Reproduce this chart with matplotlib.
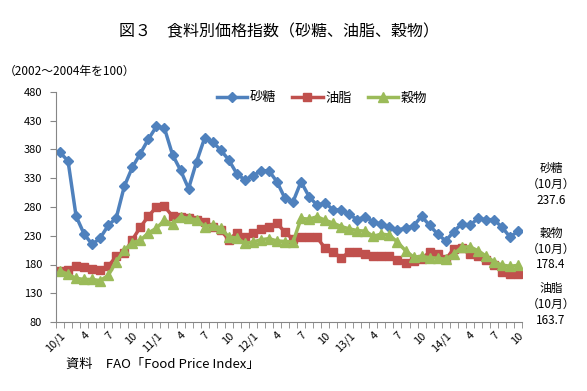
import numpy as np
import matplotlib
matplotlib.use('Agg')
import matplotlib.pyplot as plt

plt.rcParams['font.family'] = ['Noto Sans CJK JP', 'DejaVu Sans']

# 2010/1 ~ 2014/10 月次
sugar = [375, 360, 264, 233, 215, 226, 248, 261, 316, 349, 373, 398,
         420, 417, 371, 344, 312, 359, 400, 393, 379, 362, 338, 327,
         334, 343, 343, 324, 295, 289, 324, 298, 283, 287, 275, 275,
         267, 258, 263, 254, 250, 245, 240, 243, 247, 264, 248, 233,
         221, 237, 251, 248, 260, 258, 258, 245, 228, 237.6]
oils = [169, 170, 177, 175, 172, 170, 177, 194, 200, 223, 245, 264,
        280, 281, 264, 263, 261, 258, 254, 245, 240, 223, 235, 228,
        235, 241, 245, 252, 236, 224, 227, 227, 227, 208, 202, 191,
        202, 202, 199, 195, 195, 195, 187, 183, 186, 189, 202, 198,
        189, 207, 208, 198, 194, 188, 180, 167, 164, 163.7]
grains = [169, 163, 156, 154, 154, 152, 161, 185, 205, 218, 222, 235,
          243, 257, 250, 263, 260, 258, 246, 249, 243, 228, 226, 217,
          219, 223, 225, 221, 220, 219, 260, 259, 263, 257, 252, 246,
          242, 239, 238, 229, 233, 231, 219, 204, 193, 194, 192, 191,
          189, 198, 210, 211, 204, 195, 185, 179, 177, 178.4]
names = ['砂糖', '油脂', '穀物']
last_vals = ['237.6', '163.7', '178.4']

n = len(sugar)
labels = []
for i in range(n):
    if i % 12 == 0:
        labels.append('%d/1' % (10 + i // 12))
    else:
        labels.append(str(i % 12 + 1))

fig = plt.figure(figsize=(5.87, 3.91), dpi=100)
ax = fig.add_axes([56 / 587, 1 - 322 / 391, 466 / 587, 230 / 391])

x = np.arange(n)
ax.plot(x, sugar, color='#4F81BD', lw=2.5, marker='D', ms=5.5, label=names[0])
ax.plot(x, oils, color='#C0504D', lw=2.5, marker='s', ms=6, label=names[1])
ax.plot(x, grains, color='#9BBB59', lw=2.5, marker='^', ms=7, label=names[2])

ax.set_xlim(-0.5, n - 0.5)
ax.set_ylim(80, 480)
ax.set_yticks(np.arange(80, 481, 50))
ax.set_xticks(x[::3])
ax.set_xticklabels(labels[::3], rotation=45, ha='right', rotation_mode='anchor', fontsize=8)
ax.set_xticks(np.arange(-0.5, n, 1), minor=True)
ax.tick_params(axis='x', which='major', length=0, pad=6)
ax.tick_params(axis='x', which='minor', length=4, color='#868686', direction='out')
ax.tick_params(axis='y', length=4, color='#868686', labelsize=8, pad=6)

for s in ['top', 'right']:
    ax.spines[s].set_visible(False)
for s in ['left', 'bottom']:
    ax.spines[s].set_color('#868686')

fig.legend(loc='center', bbox_to_anchor=(322 / 587, 1 - 98 / 391), ncol=3, frameon=False,
           fontsize=9.5, handlelength=2.3, columnspacing=1.2, handletextpad=0.2)

fig.text(279 / 587, 1 - 32 / 391, '図３　食料別価格指数（砂糖、油脂、穀物）', ha='center', va='center', fontsize=11.5)
fig.text(4 / 587, 1 - 71 / 391, '（2002～2004年を100）', ha='left', va='center', fontsize=8.5)
fig.text(66 / 587, 1 - 364 / 391, '資料　FAO「Food Price Index」', ha='left', va='center', fontsize=9.5)

# 右側の注記
ann_y = [168, 288, 233]
for name, val, yy in zip(names, last_vals, ann_y):
    fig.text(551 / 587, 1 - yy / 391, name, ha='center', va='center', fontsize=8.5)
    fig.text(551 / 587, 1 - (yy + 16) / 391, '（10月）', ha='center', va='center', fontsize=8.5)
    fig.text(551 / 587, 1 - (yy + 32) / 391, val, ha='center', va='center', fontsize=8.5)

fig.savefig('out.png', dpi=100)
